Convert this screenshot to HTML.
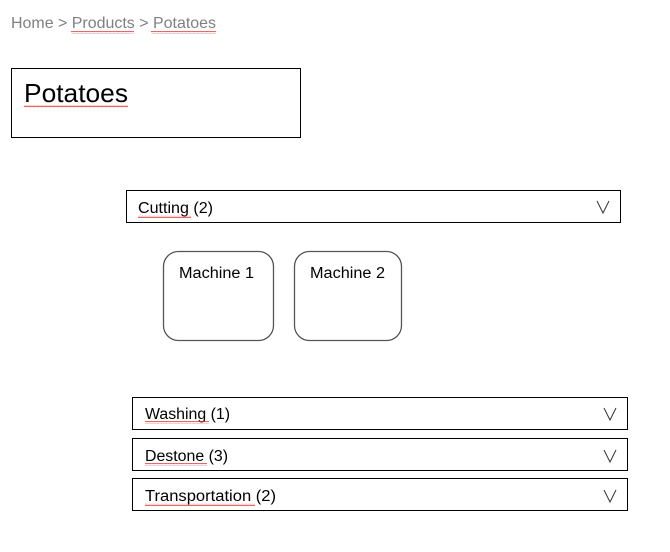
<!DOCTYPE html>
<html><head><meta charset="utf-8"><style>
html,body{margin:0;padding:0;background:#fff;}
svg{display:block;}
text{font-family:"Liberation Sans",sans-serif;}
</style></head><body>
<svg width="670" height="552" viewBox="0 0 670 552" xmlns="http://www.w3.org/2000/svg">
<defs>
<pattern id="wv" width="4" height="3" patternUnits="userSpaceOnUse">
<path d="M0 2 L1 0.8 L2 2 L3 0.8 L4 2" fill="none" stroke="#d33" stroke-width="0.7"/>
</pattern>
</defs>
<!-- breadcrumb -->
<text x="11" y="28" font-size="16" fill="#808080" textLength="205" lengthAdjust="spacingAndGlyphs">Home &gt; Products &gt; Potatoes</text>
<rect x="71" y="31" width="63" height="3" fill="url(#wv)"/>
<rect x="151" y="31" width="65" height="3" fill="url(#wv)"/>
<!-- title box -->
<rect x="11.5" y="68.5" width="289" height="69" fill="none" stroke="#000" stroke-width="1"/>
<text x="24" y="102" font-size="26" fill="#000" textLength="104" lengthAdjust="spacingAndGlyphs">Potatoes</text>
<rect x="24" y="105" width="104" height="3" fill="url(#wv)"/>
<!-- cutting -->
<rect x="126.5" y="190.5" width="494" height="32" fill="none" stroke="#000" stroke-width="1"/>
<text x="138" y="213" font-size="15.5" fill="#000" textLength="75" lengthAdjust="spacingAndGlyphs">Cutting (2)</text>
<rect x="138" y="215" width="53" height="3" fill="url(#wv)"/>
<path d="M597 201 L603 213 L609 201" fill="none" stroke="#333" stroke-width="1"/>
<!-- machines -->
<rect x="163.5" y="251.5" width="110" height="89" rx="15" fill="none" stroke="#555" stroke-width="1.3"/>
<text x="179" y="278" font-size="15.5" fill="#000" textLength="75" lengthAdjust="spacingAndGlyphs">Machine 1</text>
<rect x="294.5" y="251.5" width="107" height="89" rx="15" fill="none" stroke="#555" stroke-width="1.3"/>
<text x="310" y="278" font-size="15.5" fill="#000" textLength="75" lengthAdjust="spacingAndGlyphs">Machine 2</text>
<!-- washing -->
<rect x="132.5" y="397.5" width="495" height="32" fill="none" stroke="#000" stroke-width="1"/>
<text x="145" y="419" font-size="15.5" fill="#000" textLength="85" lengthAdjust="spacingAndGlyphs">Washing (1)</text>
<rect x="145" y="421" width="64" height="3" fill="url(#wv)"/>
<path d="M604 408 L610 420 L616 408" fill="none" stroke="#333" stroke-width="1"/>
<!-- destone -->
<rect x="132.5" y="438.5" width="495" height="32" fill="none" stroke="#000" stroke-width="1"/>
<text x="145" y="461" font-size="15.5" fill="#000" textLength="83" lengthAdjust="spacingAndGlyphs">Destone (3)</text>
<rect x="145" y="463" width="62" height="3" fill="url(#wv)"/>
<path d="M604 450 L610 462 L616 450" fill="none" stroke="#333" stroke-width="1"/>
<!-- transportation -->
<rect x="132.5" y="478.5" width="495" height="32" fill="none" stroke="#000" stroke-width="1"/>
<text x="145" y="501" font-size="15.5" fill="#000" textLength="131" lengthAdjust="spacingAndGlyphs">Transportation (2)</text>
<rect x="145" y="503" width="110" height="3" fill="url(#wv)"/>
<path d="M604 490 L610 502 L616 490" fill="none" stroke="#333" stroke-width="1"/>
</svg>
</body></html>
